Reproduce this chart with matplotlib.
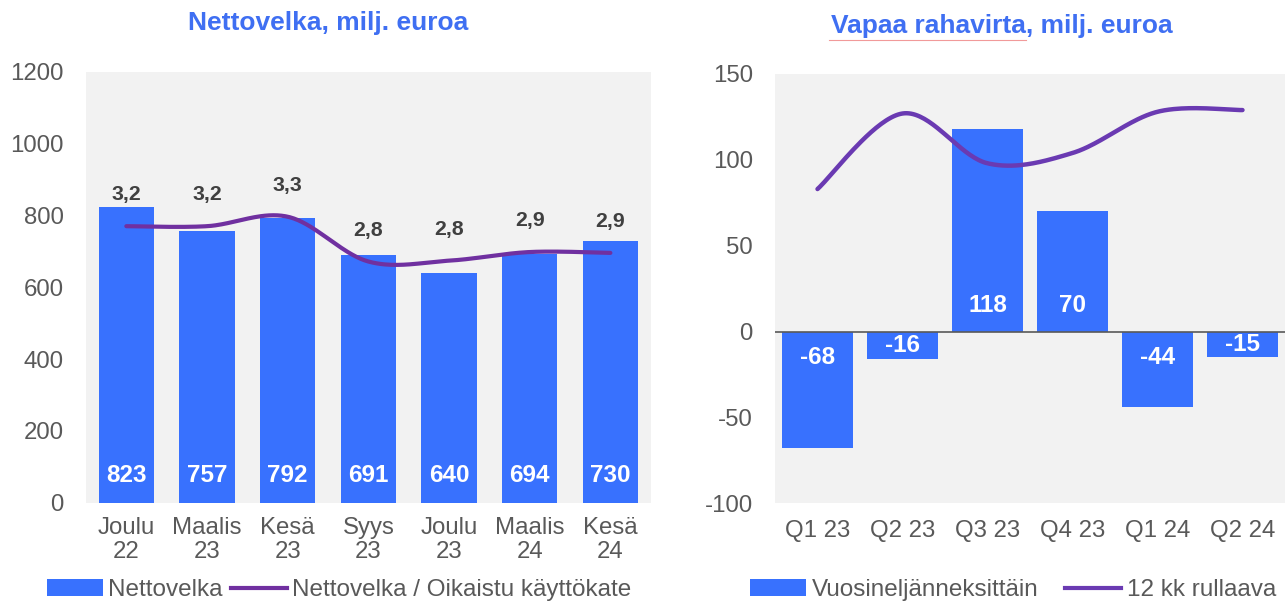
import numpy as np
import matplotlib
matplotlib.use("Agg")
import matplotlib.pyplot as plt
from matplotlib.patches import Patch
from matplotlib.lines import Line2D

plt.rcParams['font.family'] = ['Liberation Sans', 'DejaVu Sans']
plt.rcParams['axes.unicode_minus'] = False

# ---------------- data ----------------
left_categories = ["Joulu\n22", "Maalis\n23", "Kesä\n23", "Syys\n23", "Joulu\n23", "Maalis\n24", "Kesä\n24"]
nettovelka = [823, 757, 792, 691, 640, 694, 730]
ratio = [3.21, 3.21, 3.32, 2.80, 2.81, 2.91, 2.90]

right_categories = ["Q1 23", "Q2 23", "Q3 23", "Q4 23", "Q1 24", "Q2 24"]
quarterly_fcf = [-68, -16, 118, 70, -44, -15]
rolling_fcf = [83, 127, 98, 104, 128, 129]

left_title = "Nettovelka, milj. euroa"
right_title = "Vapaa rahavirta, milj. euroa"
left_legend = ["Nettovelka", "Nettovelka / Oikaistu käyttökate"]
right_legend = ["Vuosineljänneksittäin", "12 kk rullaava"]

# ---------------- style ----------------
BAR = '#3871FE'
LINE_L = '#7030A0'
LINE_R = '#6A3AB2'
BG = '#F2F2F2'
TXT = '#595959'
TITLE = '#3F6FF2'
DARK = '#404040'
FS = 17.3


def smooth(xs, ys, n=40):
    """Excel-like smoothed line (Catmull-Rom Bezier)."""
    xs = np.asarray(xs, float)
    ys = np.asarray(ys, float)
    P = np.column_stack([xs, ys])
    Pext = np.vstack([P[0], P, P[-1]])
    out = []
    t = np.linspace(0, 1, n)[:, None]
    for i in range(len(P) - 1):
        p0 = Pext[i + 1]
        p3 = Pext[i + 2]
        c1 = p0 + (Pext[i + 2] - Pext[i]) / 6.0
        c2 = p3 - (Pext[i + 3] - Pext[i + 1]) / 6.0
        seg = ((1 - t) ** 3) * p0 + 3 * ((1 - t) ** 2) * t * c1 + 3 * (1 - t) * t ** 2 * c2 + t ** 3 * p3
        out.append(seg if i == 0 else seg[1:])
    out = np.vstack(out)
    return out[:, 0], out[:, 1]


fig = plt.figure(figsize=(12.85, 6.03), dpi=100)

# ---------------- left chart ----------------
ax1 = fig.add_axes([86 / 1285, 1 - 502.7 / 603, 564.7 / 1285, 430.7 / 603])
ax1.set_facecolor(BG)
xl = np.arange(len(left_categories))
ax1.bar(xl, nettovelka, width=0.687, color=BAR, zorder=2)
ax1.set_xlim(-0.5, len(left_categories) - 0.5)
ax1.set_ylim(0, 1200)
ax1.set_yticks(np.arange(0, 1201, 200))
ax1.set_xticks(xl)
ax1.set_xticklabels(left_categories, linespacing=1.12)
for s in ax1.spines.values():
    s.set_visible(False)
ax1.tick_params(axis='y', length=0, pad=16, labelsize=FS, labelcolor=TXT)
ax1.tick_params(axis='x', length=0, pad=10, labelsize=FS, labelcolor=TXT)
for i, v in enumerate(nettovelka):
    ax1.text(i, 75, f"{v}", ha='center', va='center', color='white',
             fontsize=17.5, fontweight='bold', zorder=4)

ax1b = ax1.twinx()
ax1b.set_ylim(0, 5)
ax1b.axis('off')
sx, sy = smooth(xl, ratio)
ax1b.plot(sx, sy, color=LINE_L, lw=3, solid_capstyle='round', zorder=3)
for i, r in enumerate(ratio):
    ax1b.annotate(f"{r:.1f}".replace('.', ','), (i, r), xytext=(0, 22.5),
                  textcoords='offset points', ha='center', va='center',
                  fontsize=15.3, fontweight='bold', color=DARK)

# ---------------- right chart ----------------
ax2 = fig.add_axes([775 / 1285, 1 - 503.3 / 603, 510 / 1285, 429.3 / 603])
ax2.set_facecolor(BG)
xr = np.arange(len(right_categories))
ax2.bar(xr, quarterly_fcf, width=0.83, color=BAR, zorder=2)
ax2.axhline(0, color=TXT, lw=1.2, zorder=3)
ax2.set_xlim(-0.5, len(right_categories) - 0.5)
ax2.set_ylim(-100, 150)
ax2.set_yticks(np.arange(-100, 151, 50))
ax2.set_xticks(xr)
ax2.set_xticklabels(right_categories)
for s in ax2.spines.values():
    s.set_visible(False)
ax2.tick_params(axis='y', length=0, pad=16, labelsize=FS, labelcolor=TXT)
ax2.tick_params(axis='x', length=0, pad=12, labelsize=FS, labelcolor=TXT)
for i, v in enumerate(quarterly_fcf):
    yl = np.sign(v) * min(15, abs(v) / 2)
    ax2.text(i, yl, f"{v}", ha='center', va='center', color='white',
             fontsize=17.5, fontweight='bold', zorder=4)
rx, ry = smooth(xr, rolling_fcf)
ax2.plot(rx, ry, color=LINE_R, lw=3.2, solid_capstyle='round', zorder=3)

# ---------------- titles ----------------
fig.text(328 / 1285, 1 - 23 / 603, left_title, ha='center', va='center',
         fontsize=19, fontweight='bold', color=TITLE)
fig.text(1002 / 1285, 1 - 26 / 603, right_title, ha='center', va='center',
         fontsize=19, fontweight='bold', color=TITLE)
# spell-check underline visible in the reference under "Vapaa rahavirta"
fig.add_artist(Line2D([829 / 1285, 1026 / 1285], [1 - 40 / 603, 1 - 40 / 603],
                      color='#F19A9A', lw=0.8))

# ---------------- legends ----------------
h1 = [Patch(facecolor=BAR, edgecolor='none'), Line2D([], [], color=LINE_L, lw=3)]
fig.legend(h1, left_legend, loc='center', bbox_to_anchor=(339 / 1285, 1 - 590 / 603),
           ncol=2, frameon=False, fontsize=17.5, labelcolor=TXT,
           handlelength=2.3, handleheight=0.65, handletextpad=0.2, columnspacing=0.35,
           borderpad=0, borderaxespad=0)
h2 = [Patch(facecolor=BAR, edgecolor='none'), Line2D([], [], color=LINE_R, lw=3)]
fig.legend(h2, right_legend, loc='center', bbox_to_anchor=(1013 / 1285, 1 - 590 / 603),
           ncol=2, frameon=False, fontsize=17.5, labelcolor=TXT,
           handlelength=2.3, handleheight=0.65, handletextpad=0.25, columnspacing=1.1,
           borderpad=0, borderaxespad=0)

fig.savefig("out.png", dpi=100)
